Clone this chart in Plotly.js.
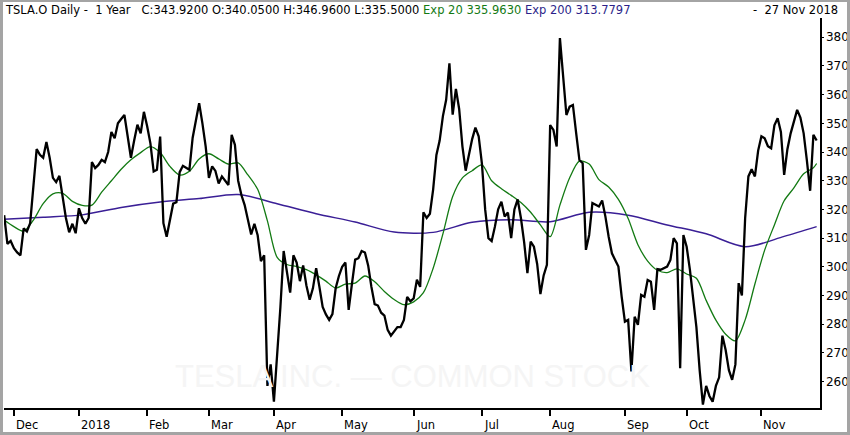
<!DOCTYPE html>
<html><head><meta charset="utf-8">
<script src="https://cdn.plot.ly/plotly-3.0.1.min.js"></script>
<style>
html,body{margin:0;padding:0;background:#fff;}
#wrap{position:relative;width:850px;height:435px;overflow:hidden;background:#fff;}
#chart{position:absolute;left:0;top:0;width:850px;height:435px;}
#frame{position:absolute;left:0;top:0;width:850px;height:435px;box-sizing:border-box;border:3px solid #a4a4a4;border-top-width:2px;pointer-events:none;}
</style></head><body>
<div id="wrap"><div id="chart"></div><div id="frame"></div></div>
<script>
// ---- data ----
const firstDay = '2017-11-28';
const lastDay = '2018-11-27';
// market holidays plus one day absent from the source series
const skippedDays = ['2017-12-25','2018-01-01','2018-01-15','2018-02-19','2018-03-27','2018-03-30','2018-05-28','2018-07-04','2018-09-03','2018-11-22'];

const closePrices = [
 318,308,309,306.5,305,304,313.4,312.3,315.2,329,
 341,339,338,343.5,338,331,329.5,331.7,325,317,
 312,315,311.7,320.4,317,315,317,336.5,334.4,335.5,
 337.3,336.5,340,347,344.8,350,351.5,352.9,345.5,338,
 344,349.5,346.5,354,349,343,333.2,333.8,345.4,315.2,
 310.5,317,322,322.5,333,335.2,334.5,333.8,345,351,
 357,350,342,331,335,333.4,329,331.5,330,328.5,
 346,342.5,330,325,321.5,316,311.3,315,311,302,
 304,258.5,266,253,268,286,305.5,298,291,304,
 301.5,295,300.5,293.5,288.5,292.5,299.5,293,286,283.4,
 281.5,283.5,292.5,296.8,300,301.5,285,294,302.5,303,
 305.5,305,300.5,293,287,286.5,284,283,278,276,
 277.5,279,279,281.5,289.5,288,289,295.5,293,319,
 317,318.5,327,339,344,352.5,358.2,370.9,353,362,
 355,342,333.5,339,344.5,348.5,345.5,336,320,310,
 309,314,320,322.7,317.5,318.9,310,320,323.5,
 317,308.5,297.8,308.8,307,301,290.5,297,300.7,349.4,
 347.7,341.9,379.7,367.5,352.9,355.8,356.4,346.6,337.2,336.1,
 305.9,311.1,322.2,321.6,321,323.1,317.5,310.5,304.7,302.4,
 300.1,289.6,280.9,281.5,263.5,282.6,279.8,290.2,289.6,295.4,
 294.8,285,299.2,299,299.5,300.1,302.4,310,308.2,264.7,
 311.1,307,299,290,279,264,252,258.5,255,253,
 258.5,261.5,276,271,264,260.6,266,294.3,290,317,
 331.5,334,331.5,340.5,345.5,344.8,342,341.3,349.3,351.8,
 347,332,341,346.5,351,354.7,352,346.5,337,326.5,
 346,344
];

// Exp 20 read every 3rd trading day (last value = last day)
const ema20Every = 3;
const ema20 = [316.3,314,312.4,316.3,322,325.4,325.6,322.8,321.4,321.5,326,330,334,337.3,339.8,341.9,339.8,335,332,333.3,
 337.6,339.4,337.6,335.8,336.2,332,327,316,303.3,300.8,300.1,299,297.2,295,292.6,294,294.3,296.8,294.8,291.4,
 288.6,286.8,287.8,291,299.5,311.5,324.5,331,333.5,335.5,330,327.2,324.9,322.4,319,314.6,310.5,321.5,331,336.8,
 335.8,330.4,327.8,323.5,316.8,307.7,302,298.8,298,299.3,297.5,296,288.3,281.4,276.5,274.2,281.5,294,305.8,314.6,
 323,327.5,332.4,334.5,336];

// Exp 200 read every 12th trading day (last value = last day)
const ema200Every = 12;
const ema200 = [316.6,317.3,318.1,320.7,322.6,323.8,325.2,322,318.5,315.6,312.1,312,315.5,316.4,315.7,319,318,314.6,311.5,307,310.6,314];

const monthLabels = ['Dec','2018','Feb','Mar','Apr','May','Jun','Jul','Aug','Sep','Oct','Nov'];

const headerMain = 'TSLA.O Daily -\u00a0\u00a01 Year\u00a0\u00a0\u00a0C:343.9200 O:340.0500 H:346.9600 L:335.5000';
const headerExp20 = 'Exp 20 335.9630';
const headerExp200 = 'Exp 200 313.7797';
const headerDate = '-\u00a0\u00a027 Nov 2018';
const watermark = 'TESLA INC. \u2014 COMMON STOCK';

// ---- trading-day categories ----
const dates = [];
(function(){
  const d = new Date(firstDay + 'T12:00:00Z');
  const end = new Date(lastDay + 'T12:00:00Z');
  while (d <= end) {
    const s = d.toISOString().slice(0,10);
    const wd = d.getUTCDay();
    if (wd !== 0 && wd !== 6 && skippedDays.indexOf(s) < 0) dates.push(s);
    d.setUTCDate(d.getUTCDate() + 1);
  }
})();

function sampled(arr, every) {
  return arr.map((v, k) => dates[Math.min(k * every, dates.length - 1)]);
}

// month starts
const monthStarts = [];
for (let i = 1; i < dates.length; i++) {
  if (dates[i].slice(5,7) !== dates[i-1].slice(5,7)) monthStarts.push(i);
}

const FONT = 'DejaVu Sans, Verdana, sans-serif';

const traces = [
  {x: sampled(ema200, ema200Every), y: ema200, type: 'scatter', mode: 'lines',
   line: {color: '#3a1f96', width: 1.5, shape: 'spline', smoothing: 0.8}, hoverinfo: 'skip'},
  {x: sampled(ema20, ema20Every), y: ema20, type: 'scatter', mode: 'lines',
   line: {color: '#137a13', width: 1.3, shape: 'spline', smoothing: 0.8}, hoverinfo: 'skip'},
  {x: dates, y: closePrices, type: 'scatter', mode: 'lines',
   line: {color: '#000000', width: 2.3}, hoverinfo: 'skip'}
];

const annotations = [];
monthStarts.forEach((idx, k) => {
  annotations.push({x: idx, xref: 'x', y: -0.0436, yref: 'paper', xanchor: 'left', yanchor: 'middle',
    text: monthLabels[k], showarrow: false, font: {family: FONT, size: 11.5, color: '#000'}});
});
annotations.push({x: -0.0012, xref: 'paper', y: 1.0205, yref: 'paper', xanchor: 'left', yanchor: 'middle', showarrow: false,
  text: headerMain + ' <span style="color:#137a13">' + headerExp20 + '</span> <span style="color:#2c1f8a">' + headerExp200 + '</span>',
  font: {family: FONT, size: 11.5, color: '#000'}});
annotations.push({x: 1.0245, xref: 'paper', y: 1.0205, yref: 'paper', xanchor: 'right', yanchor: 'middle', showarrow: false,
  text: headerDate, font: {family: FONT, size: 11.5, color: '#000'}});
annotations.push({x: 0.5, xref: 'paper', y: 0.0795, yref: 'paper', xanchor: 'center', yanchor: 'middle', showarrow: false,
  text: watermark, font: {family: 'Liberation Sans, Arial, sans-serif', size: 31, color: '#f5f5f5'}});

const layout = {
  width: 850, height: 435,
  margin: {l: 4, r: 30, t: 18, b: 27, pad: 0},
  paper_bgcolor: '#ffffff', plot_bgcolor: '#ffffff',
  showlegend: false,
  xaxis: {
    type: 'category', categoryorder: 'array', categoryarray: dates,
    range: [-0.05, 251.03],
    showline: true, linecolor: '#000', linewidth: 2,
    ticks: 'outside', ticklen: 6, tickwidth: 2, tickcolor: '#000',
    tickmode: 'array', tickvals: monthStarts.map(i => dates[i]),
    showticklabels: false, showgrid: false, zeroline: false, fixedrange: true
  },
  yaxis: {
    side: 'right', range: [250.8, 386.7], tick0: 0, dtick: 10,
    showline: true, linecolor: '#000', linewidth: 1.5,
    ticks: 'outside', ticklen: 2, tickwidth: 1, tickcolor: '#000',
    tickfont: {family: FONT, size: 12, color: '#000'},
    showgrid: false, zeroline: false, fixedrange: true
  },
  annotations: annotations
};

Plotly.newPlot('chart', traces, layout, {staticPlot: true, displayModeBar: false});
</script>
</body></html>
